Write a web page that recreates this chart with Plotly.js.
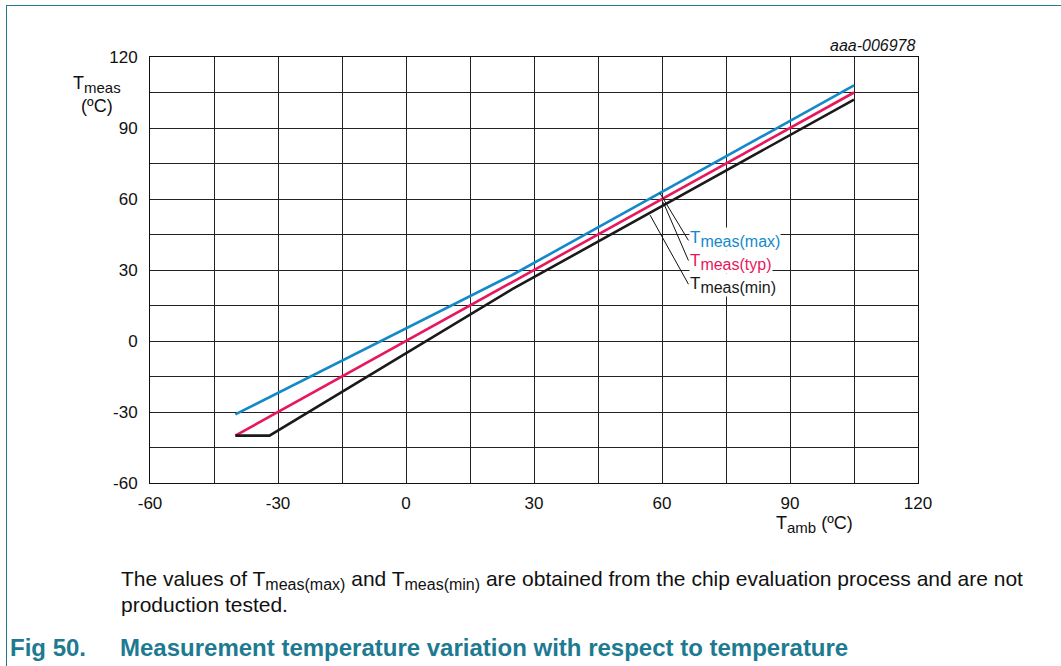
<!DOCTYPE html>
<html><head><meta charset="utf-8">
<script src="https://cdn.plot.ly/plotly-3.0.1.min.js"></script>
<style>
html,body{margin:0;padding:0;background:#fff;}
#wrap{position:relative;width:1061px;height:666px;overflow:hidden;}
#frame{position:absolute;left:6px;top:5px;width:1100px;height:700px;border-top:1.5px solid #1d7a91;border-left:1.5px solid #1d7a91;pointer-events:none;z-index:5;}
#chart{position:absolute;left:0;top:0;width:1061px;height:666px;}
</style></head>
<body><div id="wrap"><div id="chart"></div><div id="frame"></div></div>
<script>
// Data
const tambMax = [-40, 25, 105];
const tmeasMax = [-31, 28, 108];
const tambTyp = [-40, 105];
const tmeasTyp = [-40, 105];
const tambMin = [-40, -32, 25, 105];
const tmeasMin = [-40, -40, 22, 102];
const xTicks = [-60, -30, 0, 30, 60, 90, 120];
const yTicks = [-60, -30, 0, 30, 60, 90, 120];

const BLUE = '#1389cc', RED = '#e8175d', BLACK = '#1a1a1a', TEAL = '#1d7a91';
const FONT = 'Liberation Sans, Arial, sans-serif';

const L = 150, R = 918, T = 57, B = 483;
const W = 1061, H = 666;
const px2x = p => (p - L) / (R - L);
const py2y = p => (B - p) / (B - T);
const sub = (t, s) => '<sub><span style="font-size:' + s + 'px">' + t + '</span></sub>';

const traces = [
  {x: tambMax, y: tmeasMax, mode: 'lines', line: {color: BLUE, width: 2.6}, hoverinfo: 'skip'},
  {x: tambTyp, y: tmeasTyp, mode: 'lines', line: {color: RED, width: 2.6}, hoverinfo: 'skip'},
  {x: tambMin, y: tmeasMin, mode: 'lines', line: {color: BLACK, width: 2.6}, hoverinfo: 'skip'}
];

const axisCommon = {
  showline: true, mirror: true, linecolor: '#111', linewidth: 1,
  showgrid: true, gridcolor: '#222', gridwidth: 1,
  zeroline: false, ticks: '', tickfont: {family: FONT, size: 17, color: '#111'},
  fixedrange: true
};

const layout = {
  width: W, height: H,
  margin: {l: L, r: W - R, t: T, b: H - B},
  paper_bgcolor: '#fff', plot_bgcolor: '#fff',
  showlegend: false,
  xaxis: Object.assign({}, axisCommon, {
    range: [-60, 120], tickvals: xTicks, ticktext: xTicks.map(String),
    minor: {dtick: 15, showgrid: true, gridcolor: '#222', gridwidth: 1, ticks: ''},
    ticklabelstandoff: 5
  }),
  yaxis: Object.assign({}, axisCommon, {
    range: [-60, 120], tickvals: yTicks, ticktext: yTicks.map(String),
    minor: {dtick: 15, showgrid: true, gridcolor: '#222', gridwidth: 1, ticks: ''},
    ticklabelstandoff: 8
  }),
  shapes: [
    {type: 'line', xref: 'x', yref: 'y', x0: 59.5, y0: 62.5, x1: 66.2, y1: 42.5, line: {color: '#111', width: 1}},
    {type: 'line', xref: 'x', yref: 'y', x0: 60.3, y0: 58.6, x1: 66.2, y1: 34.0, line: {color: '#111', width: 1}},
    {type: 'line', xref: 'x', yref: 'y', x0: 57.2, y0: 53.2, x1: 66.2, y1: 24.0, line: {color: '#111', width: 1}}
  ],
  annotations: [
    {xref: 'x', yref: 'y', x: 66.4, y: 43, xanchor: 'left', yanchor: 'middle', showarrow: false,
     text: 'T' + sub('meas(max)', 16), font: {family: FONT, size: 17, color: BLUE}, bgcolor: '#fff', borderpad: 0},
    {xref: 'x', yref: 'y', x: 66.4, y: 33.5, xanchor: 'left', yanchor: 'middle', showarrow: false,
     text: 'T' + sub('meas(typ)', 16), font: {family: FONT, size: 17, color: RED}, bgcolor: '#fff', borderpad: 0},
    {xref: 'x', yref: 'y', x: 66.4, y: 23.5, xanchor: 'left', yanchor: 'middle', showarrow: false,
     text: 'T' + sub('meas(min)', 16), font: {family: FONT, size: 17, color: BLACK}, bgcolor: '#fff', borderpad: 0},
    {xref: 'paper', yref: 'paper', x: px2x(97), y: py2y(94), xanchor: 'center', yanchor: 'middle', showarrow: false,
     text: 'T' + sub('meas', 15) + '<br>(ºC)', font: {family: FONT, size: 18, color: '#111'}},
    {xref: 'paper', yref: 'paper', x: px2x(814), y: py2y(524), xanchor: 'center', yanchor: 'middle', showarrow: false,
     text: 'T' + sub('amb', 15) + ' (ºC)', font: {family: FONT, size: 18, color: '#111'}},
    {xref: 'paper', yref: 'paper', x: px2x(918), y: py2y(45), xanchor: 'right', yanchor: 'middle', showarrow: false,
     text: '<i>aaa-006978</i>', font: {family: FONT, size: 16, color: '#111'}},
    {xref: 'paper', yref: 'paper', x: px2x(119), y: py2y(580), xanchor: 'left', yanchor: 'middle', showarrow: false,
     text: 'The values of T' + sub('meas(max)', 16) + ' and T' + sub('meas(min)', 16) + ' are obtained from the chip evaluation process and are not',
     font: {family: FONT, size: 21, color: '#111'}},
    {xref: 'paper', yref: 'paper', x: px2x(119), y: py2y(604), xanchor: 'left', yanchor: 'middle', showarrow: false,
     text: 'production tested.', font: {family: FONT, size: 21, color: '#111'}},
    {xref: 'paper', yref: 'paper', x: px2x(8), y: py2y(647), xanchor: 'left', yanchor: 'middle', showarrow: false,
     text: '<b>Fig 50.</b>', font: {family: FONT, size: 24, color: TEAL}},
    {xref: 'paper', yref: 'paper', x: px2x(118), y: py2y(647), xanchor: 'left', yanchor: 'middle', showarrow: false,
     text: '<b>Measurement temperature variation with respect to temperature</b>', font: {family: FONT, size: 24, color: TEAL}}
  ]
};

Plotly.newPlot('chart', traces, layout, {staticPlot: true, displayModeBar: false});
</script></body></html>
